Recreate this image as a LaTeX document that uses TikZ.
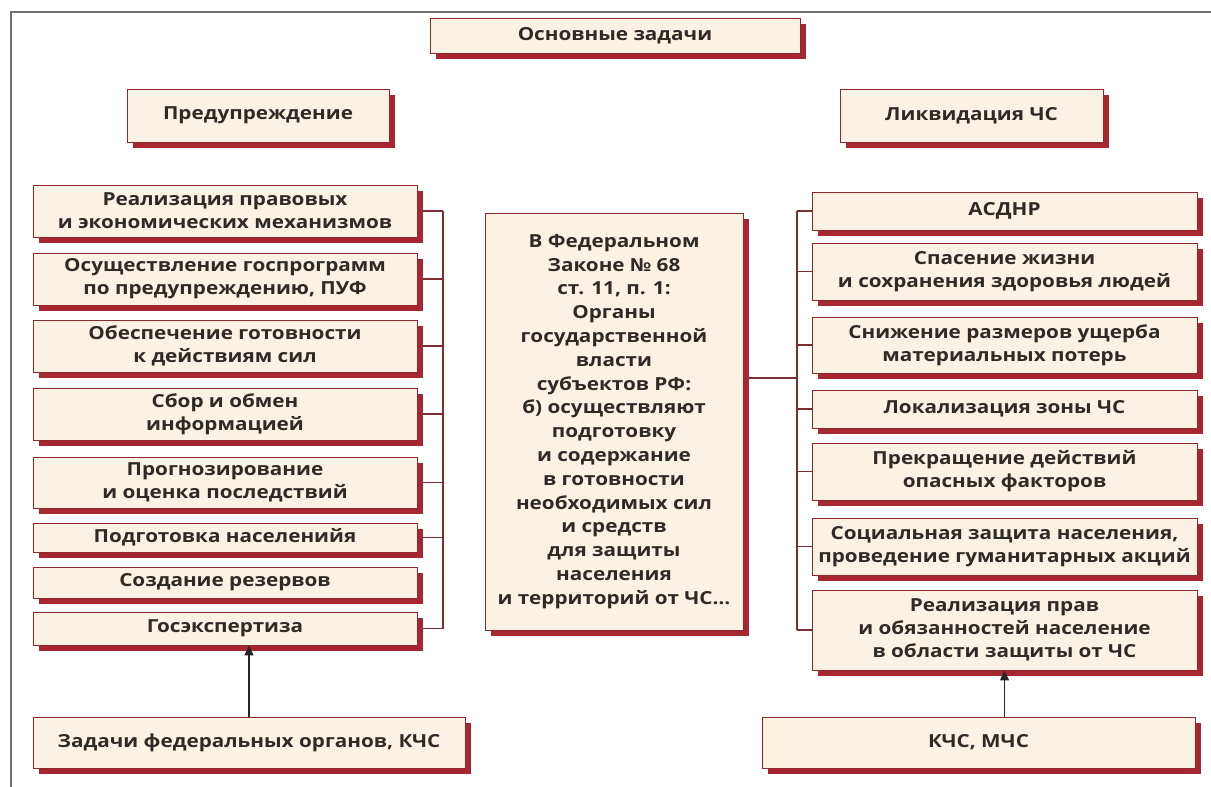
\documentclass[tikz,border=0pt]{standalone}
\usepackage{fontspec}
\setmainfont{Open Sans}[FakeStretch=1.15]
\usetikzlibrary{shadows,backgrounds,arrows.meta}
\definecolor{boxfill}{HTML}{FCF2E4}
\definecolor{boxline}{HTML}{8E2A2E}
\definecolor{shadowred}{HTML}{A8262F}
\definecolor{txt}{HTML}{2E2A28}
\definecolor{conncol}{HTML}{7A2E30}
\definecolor{framecol}{HTML}{6E716E}
\tikzset{
  box/.style={draw=boxline, line width=0.9pt, fill=boxfill, text=txt, align=center,
    inner sep=0pt, font=\bfseries\fontsize{18}{23}\selectfont,
    general shadow={fill=shadowred, shadow xshift=6pt, shadow yshift=-6pt}},
  lawtext/.style={font=\bfseries\fontsize{18}{23.8}\selectfont},
  conn/.style={draw=conncol, line width=1.4pt},
  arr/.style={draw=black!85, line width=1.4pt, -{Triangle[length=10pt,width=9pt]}},
  frameline/.style={draw=framecol, line width=2pt},
}
\begin{document}
\begin{tikzpicture}[x=1pt,y=-1pt]
\useasboundingbox (0,0) rectangle (1211,787);
\begin{scope}[on background layer]
  \fill[white] (0,0) rectangle (1211,787);
  \draw[frameline] (11,787) -- (11,12) -- (1211,12);
\end{scope}

% top
\node[box, minimum width=370pt, minimum height=35pt] (main) at (615,35.5) {Основные задачи};
\node[box, minimum width=262pt, minimum height=53pt] (prev) at (258,115.5) {Предупреждение};
\node[box, minimum width=263pt, minimum height=53pt] (liq) at (971.5,115.5) {Ликвидация ЧС};

% left column
\node[box, minimum width=384pt, minimum height=52pt] (L1) at (225,211) {Реализация правовых\\и экономических механизмов};
\node[box, minimum width=384pt, minimum height=52pt] (L2) at (225,279) {Осуществление госпрограмм\\по предупреждению, ПУФ};
\node[box, minimum width=384pt, minimum height=52pt] (L3) at (225,346) {Обеспечение готовности\\к действиям сил};
\node[box, minimum width=384pt, minimum height=52pt] (L4) at (225,414) {Сбор и обмен\\информацией};
\node[box, minimum width=384pt, minimum height=51pt] (L5) at (225,482.5) {Прогнозирование\\и оценка последствий};
\node[box, minimum width=384pt, minimum height=29pt] (L6) at (225,537.5) {Подготовка населенийя};
\node[box, minimum width=384pt, minimum height=31pt] (L7) at (225,582.5) {Создание резервов};
\node[box, minimum width=384pt, minimum height=33pt] (L8) at (225,628.5) {Госэкспертиза};
\node[box, minimum width=432pt, minimum height=51pt] (Lb) at (249,742.5) {Задачи федеральных органов, КЧС};

% centre
\node[box, lawtext, minimum width=258pt, minimum height=417pt] (C) at (614,421.5)
  {В Федеральном\\Законе № 68\\ст. 11, п. 1:\\Органы\\государственной\\власти\\субъектов РФ:\\б) осуществляют\\подготовку\\и содержание\\в готовности\\необходимых сил\\и средств\\для защиты\\населения\\и территорий от ЧС…};

% right column
\node[box, minimum width=385pt, minimum height=38pt] (R1) at (1004.5,211) {АСДНР};
\node[box, minimum width=385pt, minimum height=57pt] (R2) at (1004.5,271.5) {Спасение жизни\\и сохранения здоровья людей};
\node[box, minimum width=385pt, minimum height=56pt] (R3) at (1004.5,345) {Снижение размеров ущерба\\материальных потерь};
\node[box, minimum width=385pt, minimum height=38pt] (R4) at (1004.5,409) {Локализация зоны ЧС};
\node[box, minimum width=385pt, minimum height=57pt] (R5) at (1004.5,471.5) {Прекращение действий\\опасных факторов};
\node[box, minimum width=385pt, minimum height=57pt] (R6) at (1004.5,546.5) {Социальная защита населения,\\проведение гуманитарных акций};
\node[box, minimum width=385pt, minimum height=80pt] (R7) at (1004.5,630) {Реализация прав\\и обязанностей население\\в области защиты от ЧС};
\node[box, minimum width=433pt, minimum height=51pt] (Rb) at (978.5,742.5) {КЧС, МЧС};

\coordinate (lbus) at (443,0);
\coordinate (rbus) at (797,0);

\begin{scope}[on background layer]
  \foreach \n in {L1,L2,L3,L4,L5,L6,L8}{
    \draw[conn] (\n.east) -- (\n.east -| lbus);
  }
  \draw[conn] (L1.east -| lbus) -- (L8.east -| lbus);
  \foreach \n in {R1,R2,R3,R4,R5,R6,R7}{
    \draw[conn] (\n.west) -- (\n.west -| rbus);
  }
  \draw[conn] (R1.west -| rbus) -- (R7.west -| rbus);
  \draw[conn] ([yshift=43.5pt]C.east) -- ([yshift=43.5pt]C.east -| rbus);
\end{scope}

\draw[arr] (Lb.north) -- (Lb.north |- L8.south);
\draw[arr] (R7.south |- Rb.north) -- (R7.south);
\end{tikzpicture}
\end{document}
